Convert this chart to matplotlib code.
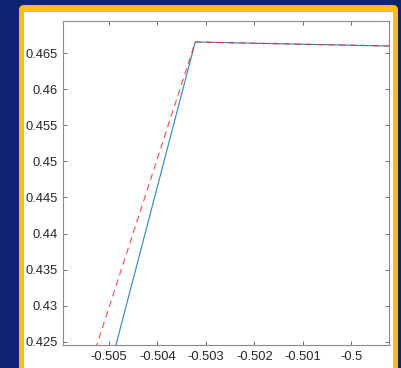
import numpy as np
import matplotlib.pyplot as plt
from matplotlib.patches import FancyBboxPatch, Rectangle

# --- data ---
blue_x = [-0.50488, -0.50322, -0.49900]
blue_y = [0.42400, 0.46652, 0.46594]
red_x = [-0.50528, -0.50322, -0.49900]
red_y = [0.42400, 0.46652, 0.46594]

xticks = [-0.505, -0.504, -0.503, -0.502, -0.501, -0.5]
yticks = [0.425, 0.43, 0.435, 0.44, 0.445, 0.45, 0.455, 0.46, 0.465]

plt.rcParams['font.family'] = ['Liberation Sans', 'DejaVu Sans']
plt.rcParams['axes.unicode_minus'] = False

navy = '#0b2370'
gold = '#ffc000'
fig = plt.figure(figsize=(4.02, 3.68), dpi=100, facecolor=navy)

# gold frame and white panel (inches), kept behind the axes
frame = FancyBboxPatch((0.19, -0.2), 3.79, 3.83, boxstyle='round,pad=0,rounding_size=0.05',
                       transform=fig.dpi_scale_trans, facecolor=gold, edgecolor='none', zorder=-2)
fig.patches.append(frame)
panel = Rectangle((0.24, -0.2), 3.69, 3.76, transform=fig.dpi_scale_trans,
                  facecolor='white', edgecolor='none', zorder=-1)
fig.patches.append(panel)

ax = fig.add_axes([63 / 402, 23 / 368, 326 / 402, 324 / 368])
ax.set_facecolor('white')
ax.plot(blue_x, blue_y, color='#2a85c6', lw=0.8)
ax.plot(red_x, red_y, color='#ff2020', lw=0.8, ls=(0, (6, 4)), alpha=0.8)

ax.set_xlim(-0.50595, -0.49922)
ax.set_ylim(0.42458, 0.46943)
ax.set_xticks(xticks)
ax.set_xticklabels(['%g' % v for v in xticks])
ax.set_yticks(yticks)
ax.set_yticklabels(['%g' % v for v in yticks])

for s in ax.spines.values():
    s.set_color('#8a8a8a')
    s.set_linewidth(0.8)
ax.tick_params(direction='in', length=3, width=0.6, color='#555555',
               labelsize=9.3, labelcolor='#262626', top=True, right=True, pad=4)

fig.savefig('out.png', dpi=100, facecolor=navy)
